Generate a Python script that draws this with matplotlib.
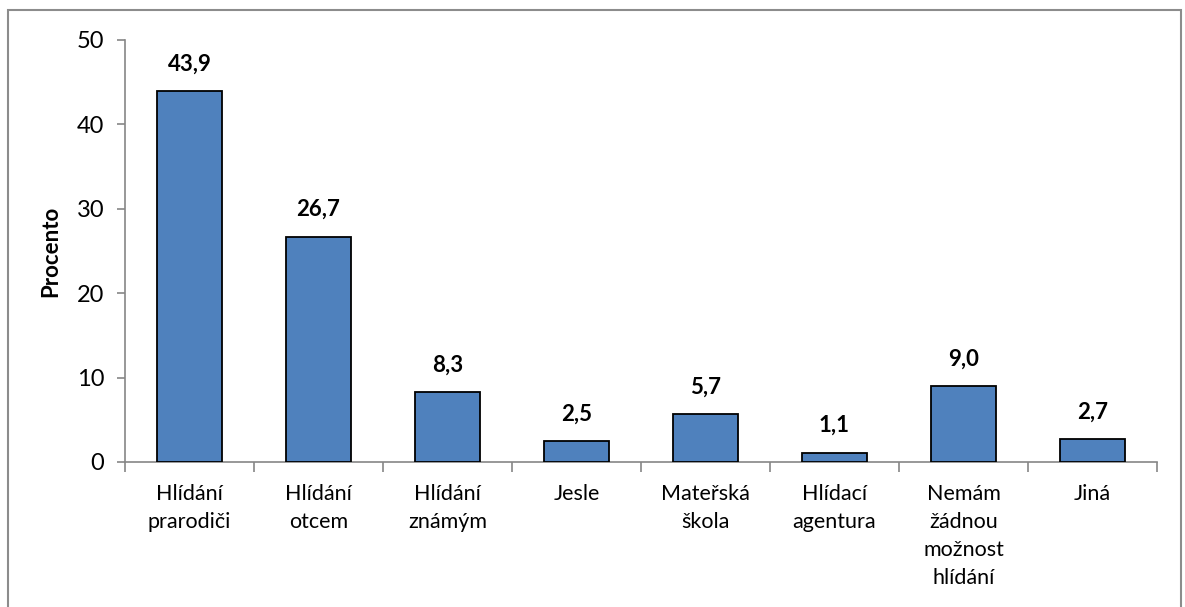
import matplotlib
matplotlib.use("Agg")
import matplotlib.pyplot as plt
from matplotlib.patches import Rectangle
import numpy as np

plt.rcParams['font.family'] = ['Lato', 'DejaVu Sans']

categories = ["Hlídání\nprarodiči", "Hlídání\notcem", "Hlídání\nznámým", "Jesle",
              "Mateřská\nškola", "Hlídací\nagentura", "Nemám\nžádnou\nmožnost\nhlídání", "Jiná"]
values = [43.9, 26.7, 8.3, 2.5, 5.7, 1.1, 9.0, 2.7]
labels = ["43,9", "26,7", "8,3", "2,5", "5,7", "1,1", "9,0", "2,7"]

fig = plt.figure(figsize=(11.85, 6.07), dpi=100)
ax = fig.add_axes([125 / 1185, 1 - 462 / 607, (1157 - 125) / 1185, (462 - 40) / 607])

x = np.arange(len(values))
ax.bar(x, values, width=0.5, color="#4f81bd", edgecolor="black", linewidth=1.3, zorder=3)

for xi, v, lab in zip(x, values, labels):
    ax.annotate(lab, (xi, v), xytext=(0, 12), textcoords="offset points",
                ha="center", va="bottom", fontsize=16, fontweight="bold")

ax.set_xlim(-0.5, len(values) - 0.5)
ax.set_ylim(0, 50)
ax.set_yticks([0, 10, 20, 30, 40, 50])
ax.tick_params(axis="y", labelsize=17, length=6, color="#868686", pad=9, width=1.2)

ax.set_xticks(x)
ax.set_xticklabels(categories, fontsize=15.5, linespacing=1.5, va="top")
ax.tick_params(axis="x", which="major", length=0, pad=16)
ax.set_xticks(np.arange(len(values) + 1) - 0.5, minor=True)
ax.tick_params(axis="x", which="minor", length=7, color="#868686", width=1.2)

for s in ["top", "right"]:
    ax.spines[s].set_visible(False)
for s in ["left", "bottom"]:
    ax.spines[s].set_color("#868686")
    ax.spines[s].set_linewidth(1.2)

ax.set_ylabel("Procento", fontsize=16, fontweight="bold", labelpad=11)

fig.patches.append(Rectangle((8 / 1185, -0.05), (1181 - 8) / 1185, 1.05 - 10 / 607,
                             transform=fig.transFigure, fill=False,
                             edgecolor="#8c8c8c", linewidth=1.5))

fig.savefig("out.png", dpi=100)
